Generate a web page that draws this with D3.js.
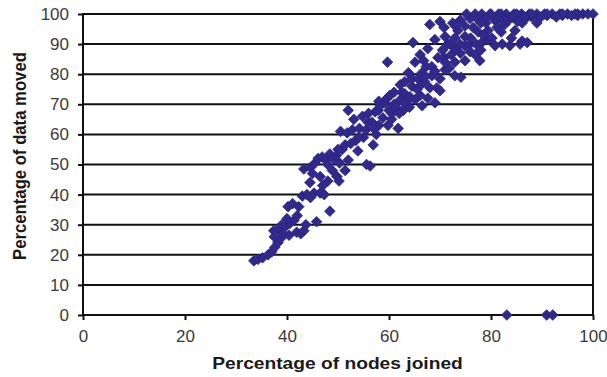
<!DOCTYPE html>
<html>
<head>
<meta charset="utf-8">
<script src="https://cdn.jsdelivr.net/npm/d3@7"></script>
<style>
  html, body { margin: 0; padding: 0; background: #fff; }
  svg { display: block; }
</style>
</head>
<body>
<svg id="chart" width="607" height="377"></svg>
<script>
// Percentage of nodes joined (x) vs percentage of data moved (y), one entry per run.
const nodesJoined = [
  33.5, 34.3, 35.2, 36.3, 37, 37.6, 38.2, 38.8, 37.4, 38.3, 39.2, 39.8, 40.4, 40.6, 40.2, 41.1,
  41.4, 41.9, 42.3, 42.7, 43.3, 43.7, 43, 43.9, 44.6, 45.3, 45.8, 46.5, 47.3, 48, 48.4, 47,
  43.3, 44.6, 45.5, 46.1, 46.9, 47.6, 48.4, 49.1, 49.7, 50.3, 49.8, 50.2, 50.8, 51.4, 52, 51.4,
  50.5, 51.8, 52.8, 53.1, 53.9, 54.2, 54.8, 55.5, 55.9, 56.3, 55.6, 56.9, 56.7, 57.3, 57.9, 58.3,
  58.8, 59.2, 59.8, 59.6, 60.2, 60.6, 61, 61.4, 61.8, 62.2, 62.5, 62.2, 63.1, 63.1, 63.5, 64.1,
  64.5, 64.5, 65.1, 65.1, 65.7, 66.1, 66.5, 66.1, 67, 67.3, 67.6, 68, 68.4, 68.4, 67.6, 69,
  69.4, 69.6, 70, 70, 70.8, 71, 71, 71.8, 72.2, 72.9, 72.9, 72.9, 72.9, 73.5, 73.9, 74.1,
  74.9, 74.9, 74.9, 74.9, 75.9, 75.9, 75.9, 76.9, 76.9, 77.1, 77.5, 77.8, 78.2, 78.2, 79.4, 79.4,
  79.8, 80.8, 81, 81.2, 81.5, 82.2, 82.7, 83, 83.7, 84.7, 84.5, 85.7, 86.1, 86.1, 86, 87.1,
  87.5, 89, 89, 90.5, 92, 93.5, 95, 96.5, 98, 100, 64.7, 68, 59.7, 70, 70.8, 72.5,
  52, 53.5, 55, 57.5, 58, 56, 60.5, 62.8, 66.5, 69, 63.8, 66.8, 70.5, 71.5, 73, 74,
  75.2, 77.5, 79, 80.5, 83.5, 85.2, 88, 91, 94, 97, 99, 76.5, 78.5, 80.2, 84, 82,
  46.5, 48.9, 44.5, 83.1, 90.9, 92.1,
  80, 82, 85, 88, 91, 94, 97, 79, 81.8, 84.2, 86.8, 89.8, 92.8, 95.8, 78, 82.5,
  86.5, 58, 61, 62, 64, 66, 67, 69, 71, 72, 74, 76, 78, 65.5, 63, 60,
  57, 54, 52.5, 50, 48, 45, 42, 40, 39, 37.5
];
const dataMoved = [
  18, 18.5, 19, 20, 21, 22.5, 24, 25.5, 28, 28.5, 27, 29.5, 26.5, 30.5, 36, 37,
  31.5, 27.5, 36, 27, 28, 30, 39.5, 40, 39, 40.5, 31, 40.5, 40, 44.5, 34.5, 43,
  48.5, 49, 50.5, 52, 52.5, 51.5, 53.5, 52, 53, 50.5, 46, 44.5, 55, 48, 51.5, 56.5,
  61, 60.5, 61.5, 65, 54.5, 62, 66, 61.5, 64, 49.5, 50, 56.5, 64, 67.5, 68, 69.5,
  65.5, 70.5, 63, 72, 73, 67, 70, 69, 62, 71.5, 74, 76.5, 73.5, 77.5, 71, 72.5,
  76, 78.5, 71.5, 84, 78.5, 73, 80.5, 86.5, 77.5, 82.5, 72, 75.5, 79.5, 82.5, 88.5, 91.5,
  75.5, 85.5, 78.5, 74.5, 85.5, 81.5, 92.5, 82, 86.5, 88.5, 79.5, 84, 92, 94.5, 90, 79,
  89.5, 84.5, 92.5, 96, 90, 87.5, 98.5, 86.5, 100, 90, 94, 84.5, 90.5, 100, 91.5, 94.5,
  100, 89.5, 97.5, 95.5, 100, 90, 96.5, 100, 89.5, 94.5, 100, 90, 91, 97, 100, 90.5,
  100, 97, 100, 100, 100, 100, 100, 100, 100, 100, 90.5, 96.5, 84, 97.5, 95.5, 97,
  68, 58, 59, 60, 63, 67, 65, 68, 69.5, 70.5, 80.5, 84.5, 88, 90, 96, 98,
  100, 98, 97, 98.5, 98, 97.5, 99, 99.5, 99.5, 99.5, 100, 95.5, 93, 92, 92, 94,
  46, 48, 44, 0, 0, 0,
  100, 100, 100, 100, 100, 100, 100, 98.5, 99, 99, 98.5, 99, 99, 99.5, 97, 98,
  99, 71, 74, 67, 69, 76, 79, 81, 84, 90, 87, 92, 88, 75, 70.5, 68,
  62, 59, 57, 55, 50, 47, 33, 32, 30, 26
];
const xTicks = [0, 20, 40, 60, 80, 100];
const yTicks = [0, 10, 20, 30, 40, 50, 60, 70, 80, 90, 100];
const xTitle = "Percentage of nodes joined";
const yTitle = "Percentage of data moved";

const svg = d3.select("#chart");
const margin = { top: 14, right: 14, bottom: 62, left: 83 };
const W = 607, H = 377;
const innerW = W - margin.left - margin.right;
const innerH = H - margin.top - margin.bottom;

const x = d3.scaleLinear().domain([0, 100]).range([margin.left, margin.left + innerW]);
const y = d3.scaleLinear().domain([0, 100]).range([margin.top + innerH, margin.top]);

const ink = "#111";
const labelColor = "#3a3a3a";
const markColor = "#32298e";

// Horizontal gridlines at every y tick above zero
svg.append("g")
  .selectAll("line")
  .data(yTicks.filter(d => d > 0))
  .join("line")
  .attr("x1", x(0)).attr("x2", x(100))
  .attr("y1", d => y(d)).attr("y2", d => y(d))
  .attr("stroke", ink).attr("stroke-width", 2);

// Right border of the plot area
svg.append("line")
  .attr("x1", x(100)).attr("x2", x(100))
  .attr("y1", y(100) - 1).attr("y2", y(0))
  .attr("stroke", ink).attr("stroke-width", 2);

// Axes
const xAxis = svg.append("g")
  .attr("transform", `translate(0,${y(0)})`)
  .call(d3.axisBottom(x).tickValues(xTicks).tickSize(5).tickPadding(10));
const yAxis = svg.append("g")
  .attr("transform", `translate(${x(0)},0)`)
  .call(d3.axisLeft(y).tickValues(yTicks).tickSize(5).tickPadding(9));

[xAxis, yAxis].forEach(g => {
  g.select(".domain").attr("stroke", ink).attr("stroke-width", 2);
  g.selectAll(".tick line").attr("stroke", ink).attr("stroke-width", 2);
  g.selectAll(".tick text")
    .attr("fill", labelColor)
    .style("font-family", "'Liberation Sans', Arial, sans-serif")
    .style("font-size", "17px");
});
xAxis.select(".domain").attr("d", `M${x(0)},0H${x(100)}`);
yAxis.select(".domain").attr("d", `M0,${y(0)}V${y(100) - 1}`);

// Square diamond marker (equal width and height)
const squareDiamond = {
  draw(context, size) {
    const r = Math.sqrt(size) * 0.62625;
    context.moveTo(0, -r);
    context.lineTo(r, 0);
    context.lineTo(0, r);
    context.lineTo(-r, 0);
    context.closePath();
  }
};
const diamond = d3.symbol().type(squareDiamond).size(72);
svg.append("g")
  .selectAll("path")
  .data(d3.range(nodesJoined.length))
  .join("path")
  .attr("transform", i => `translate(${x(nodesJoined[i])},${y(dataMoved[i])})`)
  .attr("d", diamond)
  .attr("fill", markColor)
  .attr("stroke", "#2a2378")
  .attr("stroke-width", 0.8)
  .attr("stroke-linejoin", "round");

// Axis titles
svg.append("text")
  .attr("transform", `translate(337.5,369) scale(1.15,1)`)
  .attr("text-anchor", "middle")
  .attr("fill", "#1a1a1a")
  .style("font-family", "'Liberation Sans', Arial, sans-serif")
  .style("font-size", "16.7px")
  .style("font-weight", "bold")
  .text(xTitle);

svg.append("text")
  .attr("transform", `translate(26,156) scale(1.15,1) rotate(-90)`)
  .attr("text-anchor", "middle")
  .attr("fill", "#1a1a1a")
  .style("font-family", "'Liberation Sans', Arial, sans-serif")
  .style("font-size", "16.7px")
  .style("font-weight", "bold")
  .text(yTitle);
</script>
</body>
</html>
